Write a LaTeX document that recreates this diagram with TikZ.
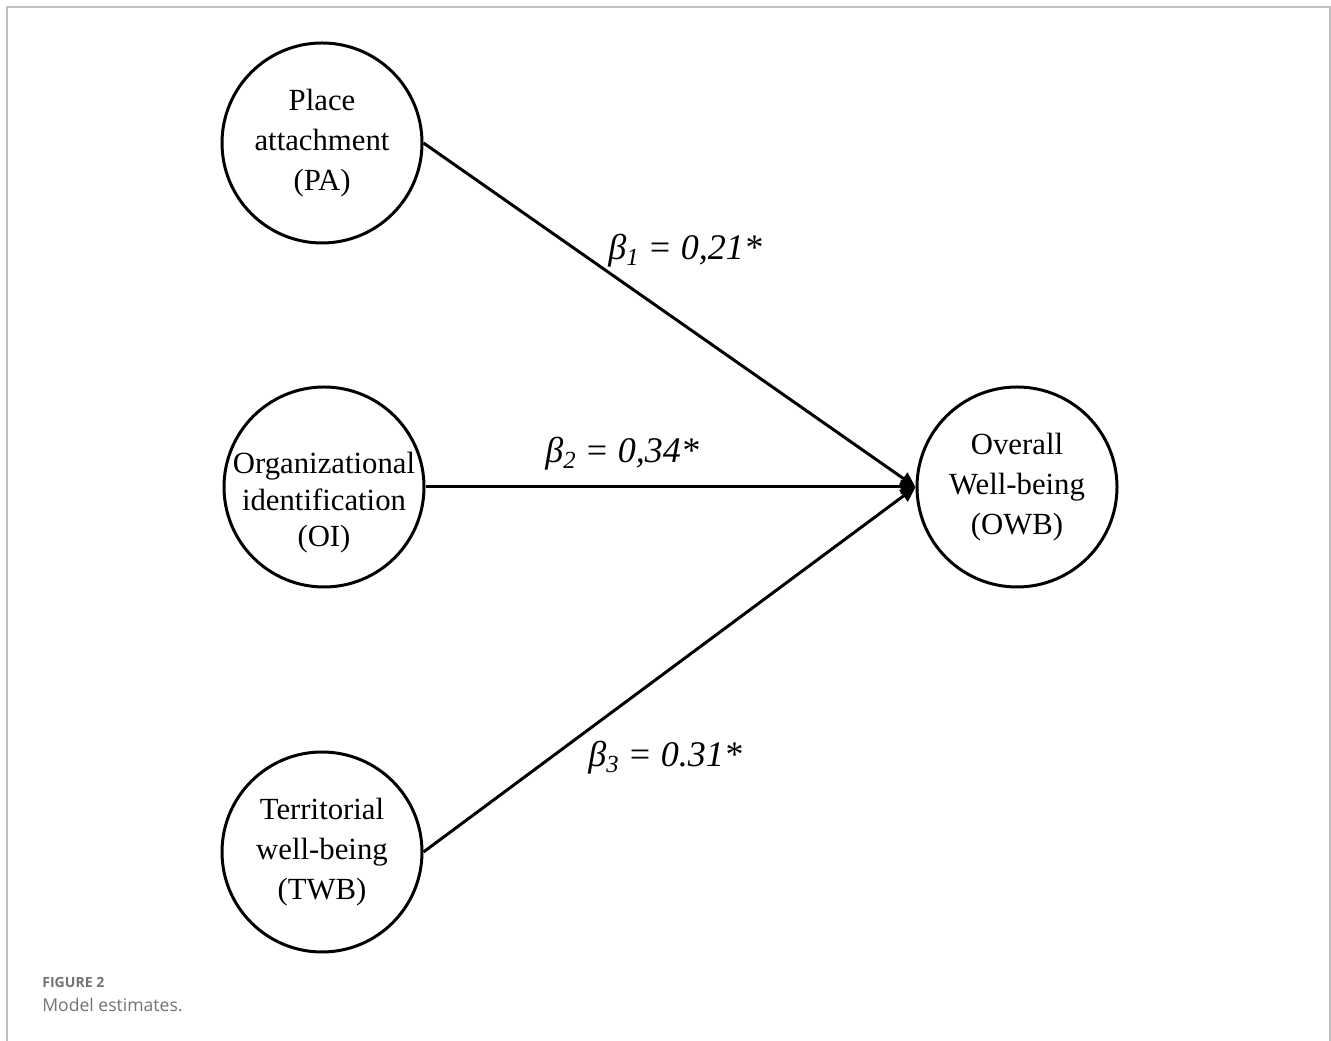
\documentclass[tikz,border=0pt]{standalone}
\usepackage{fontspec}
\setmainfont{Liberation Serif}
\newfontfamily\captionfont{Open Sans}
\usetikzlibrary{arrows.meta}

\definecolor{framegray}{gray}{0.75}
\definecolor{captiongray}{gray}{0.45}

\newcommand{\coefval}[2]{\textit{β\raisebox{-0.35ex}{\fontsize{14}{14}\selectfont #1} = #2}}

\begin{document}
\begin{tikzpicture}[
    latent/.style={circle, draw, line width=1.7pt, minimum size=4cm, inner sep=-6pt, align=center, font=\fontsize{17.5}{22.8}\selectfont},
    effect/.style={line width=1.7pt, -{Triangle[length=3mm, width=2.8mm]}},
    coef/.style={anchor=base west, inner sep=0pt, font=\fontsize{20.5}{24}\selectfont}
]
    \useasboundingbox (0,0) rectangle (26.62,20.82);

    % Frame
    \draw[framegray, line width=0.7pt] (0.14,0) -- (0.14,20.68) -- (26.6,20.68) -- (26.6,0);

    % Predictors
    \node[latent] (PA) at (6.44,17.96) {Place\\attachment\\(PA)};
    \node[latent, align=none] (OI) at (6.48,11.08)
        {\raisebox{-0.3cm}[\height][\depth]{\begin{tabular}{@{}c@{}}Organizational\\[-2pt]identification\\[-2pt](OI)\end{tabular}}};
    \node[latent] (TWB) at (6.44,3.78) {Territorial\\well-being\\(TWB)};

    % Outcome
    \node[latent] (OWB) at (20.34,11.08) {Overall\\Well-being\\(OWB)};

    % Paths
    \draw[effect] (PA.east) -- (OWB.west);
    \draw[effect] (OI.east) -- (OWB.west);
    \draw[effect] (TWB.east) -- (OWB.west);

    % Estimates
    \node[coef] (b1) at (12.16,15.62) {\coefval{1}{0,21*}};
    \node[coef] (b2) at (10.90,11.56) {\coefval{2}{0,34*}};
    \node[coef] (b3) at (11.76,5.48) {\coefval{3}{0.31*}};

    % Caption
    \node[anchor=base west, inner sep=0pt, text=captiongray, font=\captionfont\bfseries\fontsize{8}{9}\selectfont] (fignum) at (0.84,1.06) {FIGURE 2};
    \node[anchor=base west, inner sep=0pt, text=captiongray, font=\captionfont\fontsize{10}{12}\selectfont] (figcap) at (0.84,0.58) {Model estimates.};
\end{tikzpicture}
\end{document}
